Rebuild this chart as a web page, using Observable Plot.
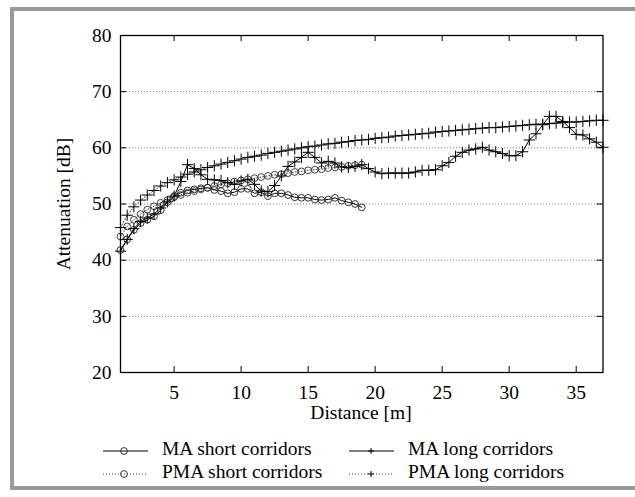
<!DOCTYPE html>
<html><head><meta charset="utf-8">
<script src="https://cdn.jsdelivr.net/npm/d3@7"></script>
<script src="https://cdn.jsdelivr.net/npm/@observablehq/plot@0.6"></script>
<style>
body{margin:0;background:#fff;}
#wrap{position:relative;width:635px;height:497px;overflow:hidden;background:#fff;font-family:"Liberation Serif","Times New Roman",serif;color:#000;}
#border{position:absolute;left:10px;top:7px;width:700px;height:483px;border:4px solid #9a9a9a;border-right:none;box-sizing:border-box;}
#chart{position:absolute;left:0;top:0;}
.lbl{position:absolute;font-size:19.5px;white-space:nowrap;line-height:1;}
.smp{position:absolute;width:50px;height:12px;overflow:visible;}
</style></head>
<body>
<div id="wrap">
  <div id="border"></div>
  <div id="chart"></div>
  <div class="lbl" id="ylab" style="left:64px;top:203.5px;transform:translate(-50%,-50%) rotate(-90deg);">Attenuation [dB]</div>
  <div class="lbl" style="left:361px;top:403px;transform:translateX(-50%);">Distance [m]</div>
  <div id="legend"></div>
</div>
<script>
// ---- data ----
const xTicks = [5, 10, 15, 20, 25, 30, 35];
const yTicks = [20, 30, 40, 50, 60, 70, 80];
const gridTicks = [30, 40, 50, 60, 70];

const distanceShort = [1,1.5,2,2.5,3,3.5,4,4.5,5,5.5,6,6.5,7,7.5,8,8.5,9,9.5,10,10.5,11,11.5,12,12.5,13,13.5,14,14.5,15,15.5,16,16.5,17,17.5,18,18.5,19];
const maShort = [41.8,43.7,45.4,46.6,47.2,47.8,48.9,50.3,51.4,52.0,52.4,52.6,52.8,52.9,52.5,52.3,51.9,52.1,52.7,52.7,51.9,52.1,51.4,51.9,51.9,51.6,51.2,51.1,51.1,50.8,50.7,50.8,51.1,50.6,50.3,50.0,49.4];
const pmaShort = [44.2,46.0,47.2,48.2,49.0,49.6,50.2,50.7,51.2,51.6,52.0,52.3,52.6,52.9,53.2,53.5,53.7,54.0,54.2,54.4,54.6,54.8,55.0,55.2,55.3,55.5,55.7,55.8,56.0,56.1,56.2,56.4,56.5,56.6,56.8,56.9,57.0];

const distanceLong = [1,1.5,2,2.5,3,3.5,4,4.5,5,5.5,6,6.5,7,7.5,8,8.5,9,9.5,10,10.5,11,11.5,12,12.5,13,13.5,14,14.5,15,15.5,16,16.5,17,17.5,18,18.5,19,19.5,20,20.5,21,21.5,22,22.5,23,23.5,24,24.5,25,25.5,26,26.5,27,27.5,28,28.5,29,29.5,30,30.5,31,31.5,32,32.5,33,33.5,34,34.5,35,35.5,36,36.5,37];
const maLong = [41.6,43.7,45.6,46.9,47.5,48.2,49.3,50.4,51.4,54.0,
  57.0,56.3,55.2,54.4,54.3,54.2,53.8,53.5,54.1,54.4,
  53.5,52.3,52.2,53.3,55.0,56.7,57.5,58.3,59.2,58.3,
  57.3,57.6,57.3,56.6,56.5,56.7,57.0,56.3,55.7,55.4,
  55.5,55.5,55.5,55.5,55.7,56.0,56.0,56.1,56.8,57.4,
  58.5,59.2,59.6,59.8,60.1,59.6,59.3,59.0,58.6,58.6,
  59.3,61.4,62.5,64.1,65.6,65.6,64.7,63.6,62.4,62.3,
  61.6,61.0,60.1];
const pmaLong = [45.8,48.0,49.5,50.7,51.6,52.4,53.2,53.8,54.3,54.8,
  55.3,55.7,56.1,56.5,56.8,57.1,57.4,57.7,58.0,58.3,
  58.5,58.7,59.0,59.2,59.4,59.6,59.8,60.0,60.2,60.3,
  60.5,60.7,60.8,61.0,61.1,61.3,61.4,61.5,61.7,61.8,
  61.9,62.1,62.2,62.3,62.4,62.5,62.6,62.8,62.9,63.0,
  63.1,63.2,63.3,63.4,63.5,63.6,63.6,63.7,63.8,63.9,
  64.0,64.1,64.2,64.2,64.3,64.4,64.5,64.6,64.6,64.7,
  64.8,64.9,64.9];

const legendLabels = ["MA short corridors", "MA long corridors", "PMA short corridors", "PMA long corridors"];

// ---- tables ----
const shortData = distanceShort.map((d, i) => ({d, ma: maShort[i], pma: pmaShort[i]}));
const longData = distanceLong.map((d, i) => ({d, ma: maLong[i], pma: pmaLong[i]}));

const W = 635, H = 425, ML = 120, MR = 32.5, MT = 35, MB = 53;
const plotW = W - ML - MR, plotH = H - MT - MB, TL = 6;
const dotted = "1,2";

const chart = Plot.plot({
  width: W, height: H,
  marginLeft: ML, marginRight: MR, marginTop: MT, marginBottom: MB,
  style: {fontFamily: "'Liberation Serif', 'Times New Roman', serif", fontSize: "19.5px", color: "#000", background: "transparent", overflow: "visible"},
  x: {domain: [1, 37]},
  y: {domain: [20, 80]},
  marks: [
    Plot.gridY(gridTicks, {stroke: "#777", strokeOpacity: 1, strokeDasharray: dotted, strokeWidth: 1}),
    Plot.line(shortData, {x: "d", y: "pma", stroke: "#444", strokeWidth: 1, strokeDasharray: dotted}),
    Plot.line(longData, {x: "d", y: "pma", stroke: "#444", strokeWidth: 1, strokeDasharray: dotted}),
    Plot.line(shortData, {x: "d", y: "ma", stroke: "#000", strokeWidth: 1}),
    Plot.line(longData, {x: "d", y: "ma", stroke: "#000", strokeWidth: 1}),
    Plot.dot(shortData, {x: "d", y: "pma", r: 3.4, stroke: "#444", fill: "none", strokeWidth: 1}),
    Plot.dot(shortData, {x: "d", y: "ma", r: 3.4, stroke: "#333", fill: "none", strokeWidth: 1}),
    Plot.dot(longData, {x: "d", y: "pma", symbol: "plus", r: 3.7, stroke: "#000", strokeWidth: 1}),
    Plot.dot(longData, {x: "d", y: "ma", symbol: "plus", r: 3.7, stroke: "#000", strokeWidth: 1}),
    Plot.frame({stroke: "#000", strokeWidth: 1.3}),
    Plot.tickY(yTicks, {stroke: "#000", insetRight: plotW - TL}),
    Plot.tickY(yTicks, {stroke: "#000", insetLeft: plotW - TL}),
    Plot.tickX(xTicks, {stroke: "#000", insetTop: plotH - TL}),
    Plot.tickX(xTicks, {stroke: "#000", insetBottom: plotH - TL}),
    Plot.axisX(xTicks, {anchor: "bottom", tickSize: 0, tickPadding: 13, label: null}),
    Plot.axisY(yTicks, {anchor: "left", tickSize: 0, tickPadding: 9, label: null})
  ]
});
document.getElementById("chart").appendChild(chart);

// ---- legend ----
const legend = document.getElementById("legend");
const items = [
  {label: legendLabels[0], dash: null, mark: "circle", lx: 103, tx: 162, cy: 451},
  {label: legendLabels[1], dash: null, mark: "plus", lx: 349, tx: 408, cy: 451},
  {label: legendLabels[2], dash: dotted, mark: "circle", lx: 103, tx: 162, cy: 474},
  {label: legendLabels[3], dash: dotted, mark: "plus", lx: 349, tx: 408, cy: 474}
];
for (const it of items) {
  const ns = "http://www.w3.org/2000/svg";
  const svg = document.createElementNS(ns, "svg");
  svg.setAttribute("class", "smp");
  svg.setAttribute("width", 46); svg.setAttribute("height", 12);
  svg.style.left = it.lx + "px"; svg.style.top = (it.cy - 6) + "px";
  const ln = document.createElementNS(ns, "line");
  ln.setAttribute("x1", 0); ln.setAttribute("x2", 45); ln.setAttribute("y1", 6); ln.setAttribute("y2", 6);
  ln.setAttribute("stroke", it.dash ? "#444" : "#000"); ln.setAttribute("stroke-width", 1);
  if (it.dash) ln.setAttribute("stroke-dasharray", it.dash);
  svg.appendChild(ln);
  if (it.mark === "circle") {
    const c = document.createElementNS(ns, "circle");
    c.setAttribute("cx", 21); c.setAttribute("cy", 6); c.setAttribute("r", 3.4);
    c.setAttribute("fill", "none"); c.setAttribute("stroke", "#333");
    svg.appendChild(c);
  } else {
    const p = document.createElementNS(ns, "path");
    p.setAttribute("d", "M19,6H25M22,3V9");
    p.setAttribute("stroke", "#000"); p.setAttribute("fill", "none");
    svg.appendChild(p);
  }
  legend.appendChild(svg);
  const t = document.createElement("div");
  t.className = "lbl";
  t.textContent = it.label;
  t.style.left = it.tx + "px";
  t.style.top = (it.cy - 12.4) + "px";
  legend.appendChild(t);
}
</script>
</body></html>
